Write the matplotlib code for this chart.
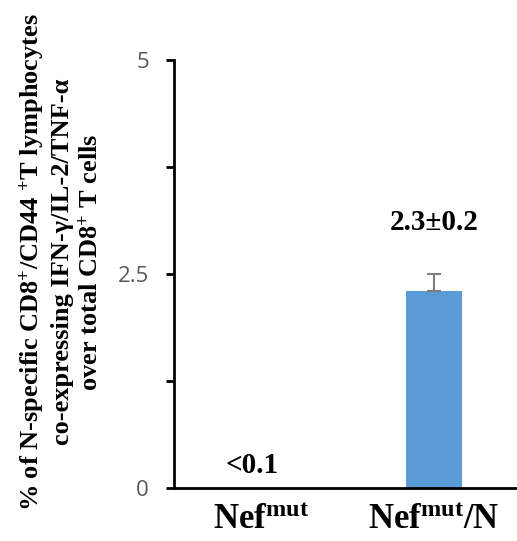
import matplotlib
matplotlib.use('Agg')
import matplotlib.pyplot as plt

# values per group (% of cells), with SD
groups = [r'$\mathbf{Nef}^{\mathbf{mut}}$', r'$\mathbf{Nef}^{\mathbf{mut}}\mathbf{/N}$']
means = [0.0, 2.3]
errors = [0.0, 0.2]
value_labels = ['<0.1', '2.3\u00b10.2']
yticks = [0, 2.5, 5]
yticks_minor = [1.25, 3.75]

plt.rcParams['mathtext.fontset'] = 'custom'
plt.rcParams['mathtext.rm'] = 'Liberation Serif:bold'
plt.rcParams['mathtext.bf'] = 'Liberation Serif:bold'
plt.rcParams['mathtext.it'] = 'Liberation Serif:bold'

fig = plt.figure(figsize=(5.17, 5.41), dpi=100)
ax = fig.add_axes([174 / 517, 1 - 488 / 541, 1 - 174 / 517, (488 - 60) / 541])

x = list(range(len(groups)))
ax.bar(x, means, width=0.32, color='#5B9BD5', zorder=2)
ax.errorbar(x[1:], means[1:], yerr=[[0], errors[1:]], fmt='none',
            ecolor='#7F7F7F', elinewidth=1.5, capsize=5, capthick=1.5, zorder=3)

# value annotations above each group
offsets = [16, 37]
for xi, m, e, lab, off in zip(x, means, errors, value_labels, offsets):
    ax.annotate(lab, (xi - (0.05 if xi == 0 else 0), m + e), xytext=(0, off),
                textcoords='offset points', ha='center', va='center',
                family='Liberation Serif', fontweight='bold', fontsize=21)

ax.set_xlim(-0.5, 1.48)
ax.set_ylim(0, 5)
ax.set_yticks(yticks)
ax.set_yticks(yticks_minor, minor=True)
ax.set_yticklabels([str(t) for t in yticks], color='#595959', fontsize=16,
                   family='Open Sans')
ax.set_xticks(x)
ax.set_xticklabels(groups, fontsize=25)
ax.tick_params(axis='x', length=0, pad=10)
ax.tick_params(axis='y', which='both', direction='out', length=6, width=2, pad=12)

for side in ['top', 'right']:
    ax.spines[side].set_visible(False)
for side in ['left', 'bottom']:
    ax.spines[side].set_linewidth(2)

ylabel = ('% of N-specific CD8$^{+}$/CD44 $^{+}$T lymphocytes\n'
          'co-expressing IFN-\u03b3/IL-2/TNF-\u03b1\n'
          'over total CD8$^{+}$ T cells')
fig.text(60 / 517, 1 - 262 / 541, ylabel, rotation=90, ha='center', va='center',
         family='Liberation Serif', fontweight='bold', fontsize=19,
         multialignment='center', linespacing=1.25)

fig.savefig('out.png', dpi=100, facecolor='white')
